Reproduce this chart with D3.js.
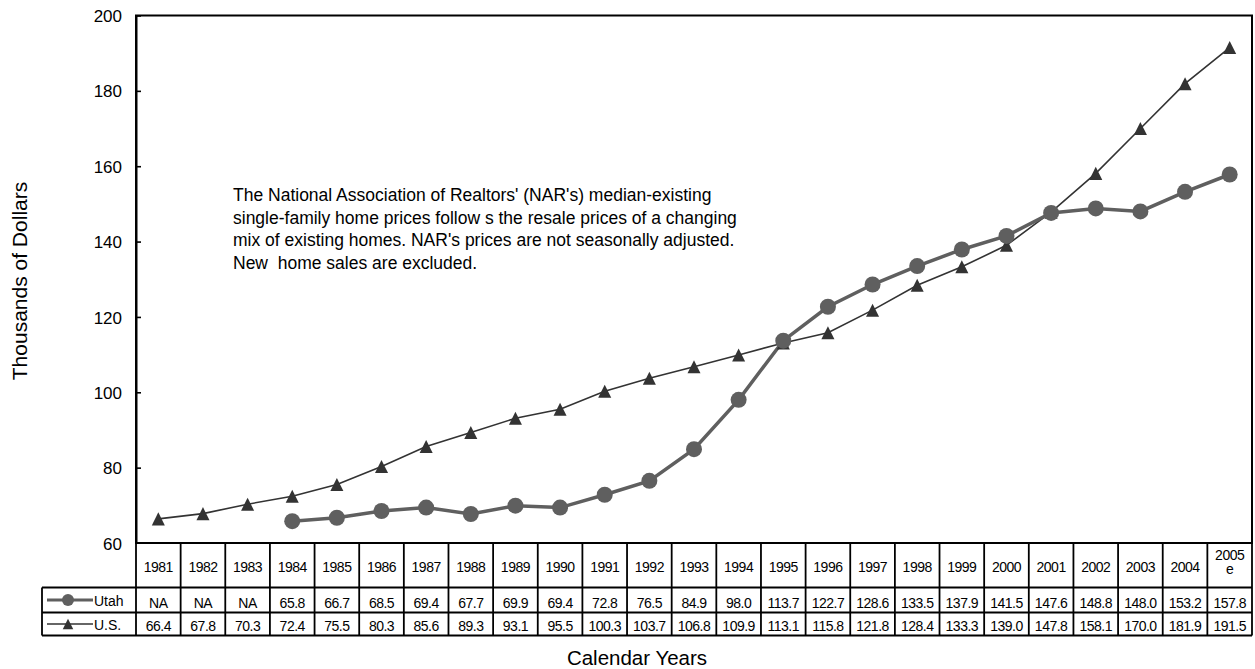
<!DOCTYPE html>
<html><head><meta charset="utf-8">
<script src="https://cdn.jsdelivr.net/npm/d3@7"></script>
<style>body{margin:0;background:#fff}svg{font-family:"Liberation Sans",Arial,sans-serif}</style>
</head><body>
<svg id="c" width="1255" height="669"></svg>
<script>
const years = ["1981","1982","1983","1984","1985","1986","1987","1988","1989","1990","1991","1992","1993","1994","1995","1996","1997","1998","1999","2000","2001","2002","2003","2004","2005 e"];
const utah = [null,null,null,65.8,66.7,68.5,69.4,67.7,69.9,69.4,72.8,76.5,84.9,98.0,113.7,122.7,128.6,133.5,137.9,141.5,147.6,148.8,148.0,153.2,157.8];
const us = [66.4,67.8,70.3,72.4,75.5,80.3,85.6,89.3,93.1,95.5,100.3,103.7,106.8,109.9,113.1,115.8,121.8,128.4,133.3,139.0,147.8,158.1,170.0,181.9,191.5];
const yTicks = [60,80,100,120,140,160,180,200];
const seriesNames = ["Utah","U.S."];
const note = ["The National Association of Realtors' (NAR's) median-existing",
 "single-family home prices follow s the resale prices of a changing",
 "mix of existing homes. NAR's prices are not seasonally adjusted.",
 "New\u00a0 home sales are excluded."];

const svg = d3.select("#c");
const L=136, R=1252, T=15.5, B=543;
const x = d3.scaleBand().domain(years).range([L,R]).padding(0);
const y = d3.scaleLinear().domain([60,200]).range([B,T]);
const utahCol="#5f5f5f", usCol="#333333";

// custom triangle symbol (bbox centred on the point)
const triType = {draw(ctx, size){ const w=Math.sqrt(size)/2, h=Math.sqrt(size)/2;
  ctx.moveTo(0,-h); ctx.lineTo(w,h); ctx.lineTo(-w,h); ctx.closePath(); }};

// plot box
svg.append("rect").attr("x",L).attr("y",T).attr("width",R-L).attr("height",B-T)
  .attr("fill","none").attr("stroke","#000").attr("stroke-width",2);

// y axis
const ya = svg.append("g").attr("transform",`translate(${L},0)`)
  .call(d3.axisLeft(y).tickValues(yTicks).tickSize(5).tickSizeOuter(0).tickPadding(9));
ya.select(".domain").attr("stroke","#000").attr("stroke-width",2);
ya.selectAll(".tick line").attr("stroke","#000").attr("stroke-width",1.6).attr("x2",5);
ya.selectAll(".tick").filter(d=>d===60).select("line").attr("x2",0);
ya.selectAll("text").attr("font-size",17).attr("font-family","Liberation Sans, Arial").attr("fill","#000").attr("dy","0.36em");

// titles
svg.append("text").attr("transform","translate(27,281) rotate(-90)").attr("text-anchor","middle")
  .attr("font-size",21).text("Thousands of Dollars");
svg.append("text").attr("x",637).attr("y",665).attr("text-anchor","middle")
  .attr("font-size",20.5).text("Calendar Years");

// annotation
const nt = svg.append("text").attr("font-size",17.5).attr("fill","#000");
note.forEach((s,i)=>nt.append("tspan").attr("x",233).attr("y",201+i*22.5).text(s));

const cx = d => x(d)+x.bandwidth()/2;

// lines
const line = d3.line().defined(d=>d[1]!=null).x(d=>cx(d[0])).y(d=>y(d[1]));
const usData = years.map((d,i)=>[d,us[i]]);
const utData = years.map((d,i)=>[d,utah[i]]);
svg.append("path").attr("d",line(usData)).attr("fill","none").attr("stroke",usCol).attr("stroke-width",1.6);
svg.append("path").attr("d",line(utData)).attr("fill","none").attr("stroke",utahCol).attr("stroke-width",3.5);
const tri = d3.symbol().type(triType).size(170);
svg.selectAll(".tri").data(usData).join("path").attr("d",tri)
  .attr("transform",d=>`translate(${cx(d[0])},${y(d[1])})`).attr("fill",usCol);
svg.selectAll(".cir").data(utData.filter(d=>d[1]!=null)).join("circle")
  .attr("cx",d=>cx(d[0])).attr("cy",d=>y(d[1])).attr("r",8).attr("fill",utahCol);

// data table
const r0=B, r1=587.5, r2=612.5, r3=635.5, LL=42;
const tg = svg.append("g");
const hl = (x1,x2,yy)=>tg.append("line").attr("x1",x1).attr("x2",x2).attr("y1",yy).attr("y2",yy).attr("stroke","#000").attr("stroke-width",1.8);
const vl = (xx,y1,y2)=>tg.append("line").attr("x1",xx).attr("x2",xx).attr("y1",y1).attr("y2",y2).attr("stroke","#000").attr("stroke-width",1.8);
hl(L,R,r0); hl(LL,R,r1); hl(LL,R,r2); hl(LL,R,r3);
vl(LL,r1,r3);
years.forEach(d=>vl(x(d),r0,r3)); vl(R,r0,r3);
const tfs=14;
const cell = (xx,yy,t)=>tg.append("text").attr("x",xx).attr("y",yy).attr("text-anchor","middle")
  .attr("font-size",tfs).attr("letter-spacing",-0.5).text(t);
years.forEach((d,i)=>{
  const parts=d.split(" ");
  if(parts.length===1){ cell(cx(d),571.5,d); }
  else { cell(cx(d),559.5,parts[0]); cell(cx(d),573.5,parts[1]); }
  cell(cx(d),607.5,utah[i]==null?"NA":utah[i].toFixed(1));
  cell(cx(d),631,us[i].toFixed(1));
});
// legend keys
const k1=(r1+r2)/2, k2=(r2+r3)/2;
tg.append("line").attr("x1",47).attr("x2",93).attr("y1",k1).attr("y2",k1).attr("stroke",utahCol).attr("stroke-width",3);
tg.append("circle").attr("cx",68).attr("cy",k1).attr("r",6).attr("fill",utahCol);
tg.append("text").attr("x",94).attr("y",k1+5.5).attr("font-size",14).text(seriesNames[0]);
tg.append("line").attr("x1",47).attr("x2",93).attr("y1",k2).attr("y2",k2).attr("stroke",usCol).attr("stroke-width",1.6);
tg.append("path").attr("d",d3.symbol().type(triType).size(110)).attr("transform",`translate(68,${k2})`).attr("fill",usCol);
tg.append("text").attr("x",94).attr("y",k2+5.5).attr("font-size",14).text(seriesNames[1]);
</script>
</body></html>
